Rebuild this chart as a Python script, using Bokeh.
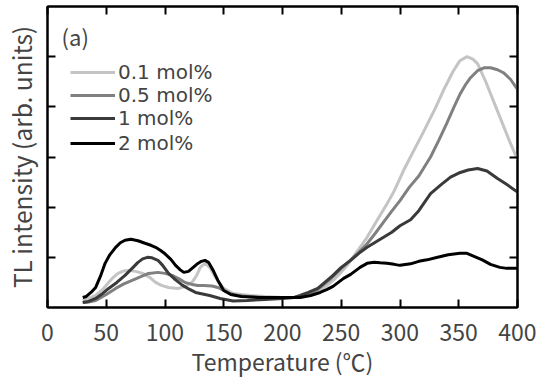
from bokeh.plotting import figure
from bokeh.models import (Range1d, LinearAxis, FixedTicker, Legend, LegendItem, Label,
                          CustomJSTickFormatter)
from bokeh.embed import file_html
from bokeh.resources import INLINE

# ---- data ----
t_01 = [30, 35, 41, 47, 52, 56, 60, 65, 69, 75, 81, 87, 92, 97, 103, 111, 117, 123, 127, 130,
        134, 138, 143, 150, 158, 165, 173, 185, 200, 210, 218, 226, 232, 238, 244, 249, 255, 260,
        266, 272, 280, 289, 295, 303, 310, 320, 330, 337, 345, 351, 357, 362, 366, 373, 380, 387,
        394, 400]
i_01 = [0.14, 0.18, 0.24, 0.36, 0.50, 0.60, 0.68, 0.73, 0.74, 0.72, 0.68, 0.60, 0.50, 0.44, 0.40,
        0.38, 0.42, 0.50, 0.64, 0.80, 0.88, 0.80, 0.60, 0.38, 0.28, 0.26, 0.24, 0.22, 0.20, 0.20,
        0.24, 0.30, 0.36, 0.44, 0.56, 0.68, 0.84, 1.00, 1.20, 1.40, 1.72, 2.07, 2.32, 2.73, 3.05,
        3.50, 3.97, 4.33, 4.70, 4.92, 5.00, 4.95, 4.86, 4.50, 4.09, 3.68, 3.27, 2.95]

t_05 = [30, 35, 41, 50, 58, 65, 72, 80, 86, 94, 100, 106, 112, 117, 123, 128, 133, 140, 145, 150,
        155, 162, 170, 185, 200, 210, 220, 230, 240, 250, 258, 265, 272, 279, 286, 293, 300, 308,
        316, 326, 333, 340, 346, 351, 356, 360, 366, 372, 377, 383, 388, 394, 400]
i_05 = [0.10, 0.11, 0.14, 0.26, 0.38, 0.47, 0.54, 0.62, 0.68, 0.70, 0.68, 0.64, 0.57, 0.50, 0.46,
        0.44, 0.44, 0.43, 0.40, 0.34, 0.28, 0.24, 0.22, 0.20, 0.20, 0.20, 0.24, 0.36, 0.55, 0.78,
        0.95, 1.10, 1.27, 1.48, 1.70, 1.92, 2.13, 2.40, 2.62, 3.00, 3.33, 3.68, 4.00, 4.25, 4.45,
        4.58, 4.72, 4.78, 4.78, 4.74, 4.68, 4.55, 4.35]

t_1 = [30, 35, 41, 47, 52, 59, 66, 72, 77, 81, 85, 89, 94, 98, 103, 109, 115, 121, 126, 130, 138,
       147, 158, 170, 185, 200, 210, 215, 222, 230, 236, 243, 250, 258, 265, 272, 279, 286, 293,
       300, 309, 316, 326, 335, 343, 350, 358, 366, 374, 383, 391, 400]
i_1 = [0.10, 0.12, 0.18, 0.28, 0.38, 0.50, 0.64, 0.78, 0.90, 0.97, 1.00, 0.99, 0.94, 0.84, 0.68,
       0.55, 0.44, 0.36, 0.30, 0.28, 0.24, 0.18, 0.13, 0.14, 0.16, 0.18, 0.20, 0.24, 0.30, 0.38,
       0.50, 0.64, 0.80, 0.94, 1.08, 1.20, 1.30, 1.40, 1.50, 1.63, 1.75, 1.93, 2.27, 2.45, 2.60,
       2.68, 2.74, 2.77, 2.72, 2.57, 2.45, 2.30]

t_2 = [30, 33, 37, 41, 45, 49, 53, 58, 62, 66, 71, 77, 83, 88, 92, 96, 100, 105, 109, 113, 116,
       120, 123, 127, 131, 134, 137, 141, 145, 150, 156, 165, 180, 200, 215, 224, 232, 238, 243,
       252, 258, 266, 272, 278, 283, 289, 295, 300, 309, 316, 323, 332, 341, 351, 357, 363, 370,
       377, 385, 391, 400]
i_2 = [0.20, 0.22, 0.30, 0.40, 0.62, 0.88, 1.05, 1.20, 1.29, 1.34, 1.36, 1.33, 1.28, 1.24, 1.20,
       1.14, 1.07, 0.96, 0.84, 0.75, 0.70, 0.72, 0.78, 0.86, 0.92, 0.94, 0.90, 0.74, 0.54, 0.34,
       0.26, 0.22, 0.20, 0.20, 0.20, 0.24, 0.30, 0.36, 0.42, 0.58, 0.66, 0.80, 0.88, 0.90, 0.89,
       0.88, 0.86, 0.84, 0.87, 0.92, 0.95, 1.00, 1.05, 1.08, 1.08, 1.02, 0.95, 0.86, 0.80, 0.78,
       0.78]

labels = ["0.1 mol%", "0.5 mol%", "1 mol%", "2 mol%"]
colors = ["#c4c4c4", "#808080", "#3a3a3a", "#000000"]
x_ticks = [0, 50, 100, 150, 200, 250, 300, 350, 400]
y_ticks = [1, 2, 3, 4, 5]
x_title = "Temperature (℃)"
y_title = "TL intensity (arb. units)"
panel_tag = "(a)"

FONT = "Noto Sans CJK JP"
LEGEND_FONT = "DejaVu Sans"

p = figure(width=547, height=383, output_backend="svg", toolbar_location=None,
           x_range=Range1d(0, 400), y_range=Range1d(0, 6),
           min_border_left=47, min_border_right=30, min_border_top=6, min_border_bottom=76)
p.background_fill_color = "white"
p.border_fill_color = "white"
p.xgrid.visible = False
p.ygrid.visible = False
p.outline_line_color = "black"
p.outline_line_width = 2

blank = CustomJSTickFormatter(code="return ''")

# main axes
xa = p.xaxis[0]
xa.ticker = FixedTicker(ticks=x_ticks)
xa.axis_label = x_title
xa.axis_label_text_font = FONT
xa.axis_label_text_font_size = "23px"
xa.axis_label_text_font_style = "normal"
xa.axis_label_standoff = 0
xa.major_label_text_font = FONT
xa.major_label_text_font_size = "23px"
xa.major_label_standoff = 16
xa.major_tick_in = 8
xa.major_tick_out = 0
xa.minor_tick_in = 0
xa.minor_tick_out = 0
xa.axis_line_width = 2
xa.major_tick_line_width = 2

ya = p.yaxis[0]
ya.ticker = FixedTicker(ticks=y_ticks)
ya.formatter = blank
ya.axis_label = y_title
ya.axis_label_text_font = FONT
ya.axis_label_text_font_size = "24.5px"
ya.axis_label_text_font_style = "normal"
ya.axis_label_standoff = 9
ya.major_label_standoff = 0
ya.major_tick_in = 8
ya.major_tick_out = 0
ya.minor_tick_in = 0
ya.minor_tick_out = 0
ya.axis_line_width = 2
ya.major_tick_line_width = 2

# mirror axes (top, right)
top = LinearAxis(ticker=FixedTicker(ticks=x_ticks), formatter=blank,
                 major_tick_in=8, major_tick_out=0, minor_tick_in=0, minor_tick_out=0,
                 axis_line_width=2, major_tick_line_width=2, major_label_standoff=0)
right = LinearAxis(ticker=FixedTicker(ticks=y_ticks), formatter=blank,
                   major_tick_in=8, major_tick_out=0, minor_tick_in=0, minor_tick_out=0,
                   axis_line_width=2, major_tick_line_width=2, major_label_standoff=0)
p.add_layout(top, "above")
p.add_layout(right, "right")

series = [(t_01, i_01), (t_05, i_05), (t_1, i_1), (t_2, i_2)]
renderers = []
for (tx, iy), c in zip(series, colors):
    r = p.line(tx, iy, line_color=c, line_width=3)
    renderers.append(r)

# one legend per row, stacked tightly like the reference
row_offsets = [223, 200, 177, 152]
for lab, r, yoff in zip(labels, renderers, row_offsets):
    lg = Legend(items=[LegendItem(label=lab, renderers=[r])], location=(23, yoff),
                label_text_font=LEGEND_FONT, label_text_font_size="20px",
                glyph_width=45, glyph_height=18, label_height=18, label_standoff=3,
                spacing=0, padding=0, margin=0,
                border_line_color=None, background_fill_alpha=0)
    p.add_layout(lg, "center")

p.add_layout(Label(x=12, y=5.42, text=panel_tag, text_font=FONT, text_font_size="22px",
                   text_baseline="middle", text_align="left"))

open("out.html", "w").write(file_html(p, INLINE))
